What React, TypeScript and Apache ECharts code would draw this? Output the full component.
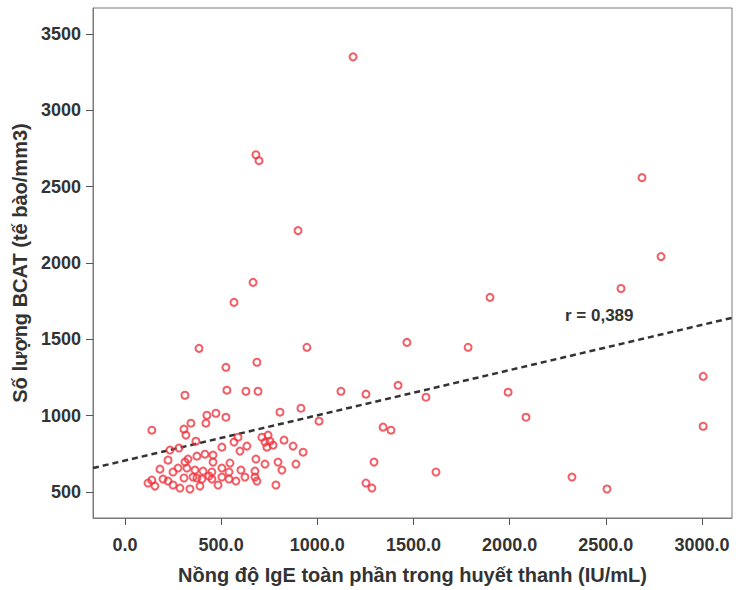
import React, { useEffect, useRef } from "react";
import * as echarts from "echarts";

// IgE (IU/mL)
const igeValues = [
  1186, 681, 697, 900, 2688, 2787, 666, 567, 2579, 1898, 385, 946, 1466, 1784, 525, 686, 3006, 312, 530, 629,
  692, 1123, 1253, 1420, 1565, 1992, 140, 2085, 915, 806, 1009, 1342, 1383, 3006, 1617, 1295, 1253, 1284, 2324, 2506,
  889,
  307, 343, 426, 473, 525, 421, 317, 369, 234, 281, 588, 567, 634, 712, 728, 738, 770, 827, 874, 926,
  504, 224, 328, 374, 416, 458, 546, 681, 728, 796, 140, 198, 250, 276, 322, 364, 406, 452, 504, 541,
  603, 676, 816, 250, 286, 307, 374, 437, 504, 541, 577, 676, 686, 785, 156, 224, 354, 458, 312, 744,
  452, 400, 120, 598, 754, 338, 390, 484, 624, 182,
];
// BCAT count (cells/mm3)
const bcatValues = [
  3350, 2709, 2670, 2212, 2559, 2042, 1873, 1742, 1833, 1775, 1441, 1448, 1480, 1448, 1317, 1350, 1258, 1134, 1167, 1160,
  1160, 1160, 1141, 1199, 1121, 1154, 905, 990, 1049, 1023, 964, 925, 905, 931, 631, 696, 559, 526, 598, 520,
  683,
  912, 951, 1003, 1016, 990, 951, 873, 833, 775, 788, 859, 827, 801, 859, 827, 794, 807, 840, 801, 761,
  794, 709, 716, 735, 748, 742, 690, 716, 683, 696, 578, 585, 631, 657, 657, 644, 637, 631, 657, 631,
  644, 637, 644, 546, 526, 592, 592, 605, 598, 585, 572, 598, 572, 546, 539, 572, 598, 696, 696, 873,
  585, 585, 559, 768, 833, 520, 539, 546, 598, 650,
];
// Fitted line end points (x, y) across the axis extent
const fitX = [-166, 3156];
const fitY = [657, 1641];
const xTicks = [0, 500, 1000, 1500, 2000, 2500, 3000];
const yTicks = [500, 1000, 1500, 2000, 2500, 3000, 3500];
const rLabel = "r = 0,389";

export default function App() {
  const ref = useRef<HTMLDivElement>(null);
  useEffect(() => {
    if (!ref.current) return;
    const chart = echarts.init(ref.current, null, { renderer: "svg" });
    const font = "'Liberation Sans', Arial, sans-serif";
    const points = igeValues.map((x, i) => [x, bcatValues[i]]);
    chart.setOption({
      animation: false,
      backgroundColor: "#ffffff",
      textStyle: { fontFamily: font },
      grid: {
        left: 93,
        right: 4,
        top: 8,
        bottom: 71,
        show: true,
        borderColor: "#7a7a7a",
        borderWidth: 1,
        backgroundColor: "#ffffff",
      },
      xAxis: {
        type: "value",
        min: fitX[0],
        max: fitX[1],
        splitLine: { show: false },
        axisLine: { show: true, onZero: false, lineStyle: { color: "#7a7a7a", width: 1 } },
        axisTick: { show: true, length: 7, customValues: xTicks, lineStyle: { color: "#555" } },
        axisLabel: {
          customValues: xTicks,
          formatter: (v: number) => v.toFixed(1),
          color: "#333",
          fontSize: 18,
          fontWeight: "bold",
          fontFamily: font,
          margin: 18,
        },
        name: "Nồng độ IgE toàn phần trong huyết thanh (IU/mL)",
        nameLocation: "middle",
        nameGap: 47,
        nameTextStyle: { color: "#333", fontSize: 20, fontWeight: "bold", fontFamily: font },
      },
      yAxis: {
        type: "value",
        min: 330,
        max: 3670,
        splitLine: { show: false },
        axisLine: { show: true, onZero: false, lineStyle: { color: "#7a7a7a", width: 1 } },
        axisTick: { show: true, length: 7, customValues: yTicks, lineStyle: { color: "#555" } },
        axisLabel: {
          customValues: yTicks,
          formatter: (v: number) => String(v),
          color: "#333",
          fontSize: 18,
          fontWeight: "bold",
          fontFamily: font,
          margin: 12,
        },
        name: "Số lượng BCAT (tế bào/mm3)",
        nameLocation: "middle",
        nameGap: 58,
        nameRotate: 90,
        nameTextStyle: { color: "#333", fontSize: 20, fontWeight: "bold", fontFamily: font },
      },
      series: [
        {
          type: "line",
          data: fitX.map((x, i) => [x, fitY[i]]),
          symbol: "none",
          lineStyle: { color: "#333", width: 2.5, type: [6, 4] },
          z: 1,
        },
        {
          type: "scatter",
          data: points,
          symbol: "circle",
          symbolSize: 7,
          itemStyle: { color: "rgba(255,255,255,0)", borderColor: "#f0343e", borderWidth: 2 },
          z: 2,
        },
      ],
      graphic: [
        {
          type: "text",
          left: 565,
          top: 307,
          style: { text: rLabel, fill: "#333", font: `bold 17px ${font}` },
        },
      ],
    });
    return () => chart.dispose();
  }, []);
  return <div ref={ref} style={{ position: "fixed", left: 0, top: 0, width: 736, height: 590 }} />;
}
